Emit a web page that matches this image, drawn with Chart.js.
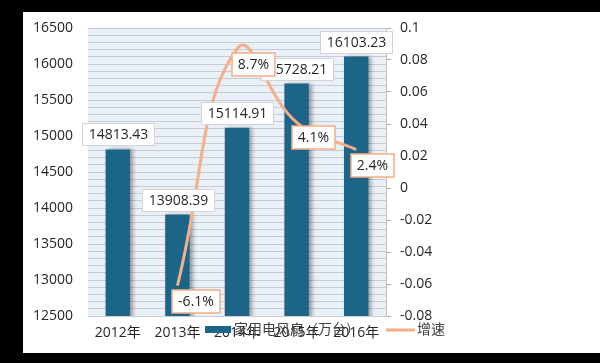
<!DOCTYPE html>
<html>
<head>
<meta charset="utf-8">
<script src="https://cdn.jsdelivr.net/npm/chart.js@4"></script>
<style>
  html, body { margin: 0; background: #000; }
  canvas { display: block; }
</style>
</head>
<body>
<canvas id="grafico" width="600" height="363"></canvas>
<script>
const anos = ['2012年', '2013年', '2014年', '2015年', '2016年'];
const producao = [14813.43, 13908.39, 15114.91, 15728.21, 16103.23];
const crescimento = [null, -0.061, 0.087, 0.041, 0.024];
const rotulosProducao = ['14813.43', '13908.39', '15114.91', '15728.21', '16103.23'];
const rotulosCrescimento = [null, '-6.1%', '8.7%', '4.1%', '2.4%'];
const nomeSerieBarra = '家用电风扇（万台）';
const nomeSerieLinha = '增速';

const COR_BARRA = '#1d6588';
const COR_LINHA = '#f5ae87';
const FONTE = "'Open Sans', 'Noto Sans CJK SC', sans-serif";

function caixa(ctx, texto, x, y, w, h, borda, larguraBorda) {
  ctx.fillStyle = '#fff';
  ctx.fillRect(x, y, w, h);
  ctx.strokeStyle = borda;
  ctx.lineWidth = larguraBorda;
  ctx.strokeRect(x, y, w, h);
  ctx.fillStyle = '#262626';
  ctx.textAlign = 'center';
  ctx.textBaseline = 'middle';
  ctx.fillText(texto, x + w / 2, y + h / 2 + 1);
}

const pluginFundo = {
  id: 'fundo',
  beforeDraw(chart) {
    const { ctx, chartArea: a } = chart;
    ctx.save();
    ctx.fillStyle = '#000';
    ctx.fillRect(0, 0, chart.width, chart.height);
    ctx.fillStyle = '#fff';
    ctx.fillRect(23, 12, 577, 341);
    ctx.fillStyle = '#e9f0f7';
    ctx.fillRect(a.left, a.top, a.right - a.left, a.bottom - a.top);
    ctx.restore();
  },
  beforeDatasetDraw(chart, args) {
    if (args.index !== 0) return;
    const ctx = chart.ctx;
    ctx.save();
    ctx.shadowColor = 'rgba(0,0,0,0.35)';
    ctx.shadowOffsetX = 3;
    ctx.shadowOffsetY = 0;
    ctx.shadowBlur = 4;
  },
  afterDatasetDraw(chart, args) {
    if (args.index !== 0) return;
    chart.ctx.restore();
  },
};

const pluginRotulos = {
  id: 'rotulos',
  afterDatasetsDraw(chart) {
    const ctx = chart.ctx;
    ctx.save();
    ctx.font = '14px ' + FONTE;
    chart.getDatasetMeta(0).data.forEach((bar, i) => {
      const w = ctx.measureText(rotulosProducao[i]).width + 12;
      caixa(ctx, rotulosProducao[i], Math.round(bar.x - w / 2) + 0.5, Math.round(bar.y - 26) + 0.5, Math.round(w), 22, '#d4d4d4', 1);
    });
    chart.getDatasetMeta(1).data.forEach((pt, i) => {
      if (!rotulosCrescimento[i]) return;
      const w = ctx.measureText(rotulosCrescimento[i]).width + 12;
      caixa(ctx, rotulosCrescimento[i], Math.round(pt.x - 5), Math.round(pt.y + 4), Math.round(w), 23, COR_LINHA, 1.5);
    });
    ctx.restore();
  },
  afterDraw(chart) {
    const ctx = chart.ctx;
    ctx.save();
    ctx.font = '14px ' + FONTE;
    ctx.textBaseline = 'middle';
    ctx.textAlign = 'left';
    ctx.fillStyle = COR_BARRA;
    ctx.fillRect(205, 326, 26, 7);
    ctx.fillStyle = '#404040';
    ctx.fillText(nomeSerieBarra, 234, 330);
    ctx.strokeStyle = COR_LINHA;
    ctx.lineWidth = 3;
    ctx.beginPath();
    ctx.moveTo(386, 330);
    ctx.lineTo(415, 330);
    ctx.stroke();
    ctx.fillText(nomeSerieLinha, 417, 330);
    ctx.restore();
  },
};

new Chart(document.getElementById('grafico'), {
  data: {
    labels: anos,
    datasets: [
      {
        type: 'bar',
        label: nomeSerieBarra,
        data: producao,
        backgroundColor: COR_BARRA,
        categoryPercentage: 1,
        barPercentage: 0.41,
        yAxisID: 'y',
        order: 2,
      },
      {
        type: 'line',
        label: nomeSerieLinha,
        data: crescimento,
        borderColor: COR_LINHA,
        borderWidth: 3,
        pointRadius: 0,
        tension: 0.45,
        yAxisID: 'y1',
        order: 1,
      },
    ],
  },
  options: {
    responsive: false,
    animation: false,
    layout: { padding: { left: 23, top: 28, right: 0, bottom: 0 } },
    plugins: { legend: { display: false }, tooltip: { enabled: false } },
    scales: {
      x: {
        grid: { display: false, drawTicks: false },
        border: { display: false },
        ticks: { color: '#262626', padding: 9, font: { size: 14, family: FONTE } },
        afterFit: (s) => { s.height = 47; },
      },
      y: {
        position: 'left',
        min: 12500,
        max: 16500,
        grid: { color: '#c5ccd3', drawTicks: false },
        border: { display: false },
        ticks: {
          stepSize: 100,
          autoSkip: false,
          padding: 15,
          color: '#262626',
          font: { size: 14, family: FONTE },
          callback: (v) => (v % 500 === 0 ? String(v) : ''),
        },
        afterFit: (s) => { s.width = 65; },
      },
      y1: {
        position: 'right',
        min: -0.08,
        max: 0.1,
        grid: { drawOnChartArea: false, drawTicks: true, tickLength: 5, color: '#a6a6a6' },
        border: { display: true, color: '#bfbfbf' },
        ticks: {
          stepSize: 0.02,
          padding: 9,
          color: '#262626',
          font: { size: 14, family: FONTE },
          callback: (v) => String(+v.toFixed(2)),
        },
        afterFit: (s) => { s.width = 214; },
      },
    },
  },
  plugins: [pluginFundo, pluginRotulos],
});
</script>
</body>
</html>
